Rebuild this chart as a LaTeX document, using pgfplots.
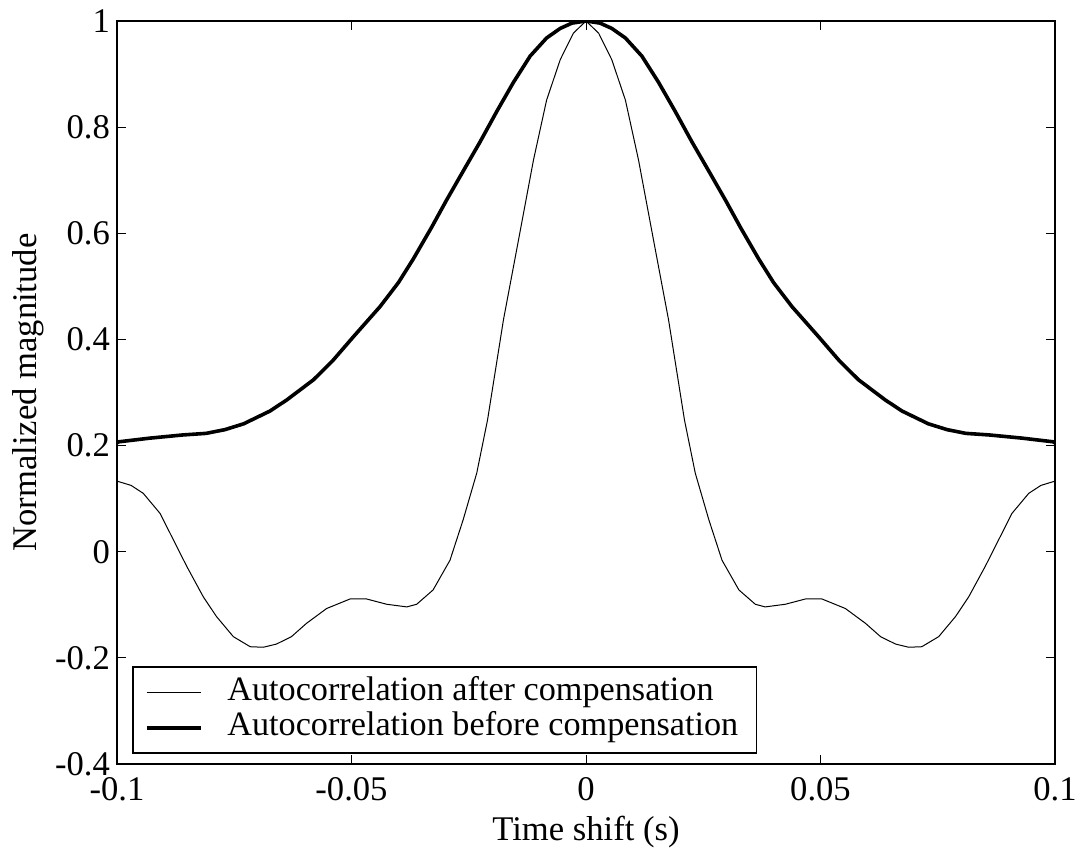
\documentclass[border=0pt]{standalone}
\usepackage{fontspec}
\setmainfont{Liberation Serif}
\usepackage{pgfplots}
\pgfplotsset{compat=1.18}
\begin{document}
\begin{tikzpicture}
\pgfplotstableread{
x y
-0.1000 0.205
-0.0997 0.207
-0.0930 0.214
-0.0860 0.220
-0.0810 0.223
-0.0770 0.230
-0.0730 0.241
-0.0674 0.265
-0.0638 0.286
-0.0581 0.324
-0.0540 0.360
-0.0496 0.405
-0.0439 0.462
-0.0400 0.507
-0.0368 0.552
-0.0330 0.610
-0.0297 0.663
-0.0260 0.720
-0.0226 0.772
-0.0190 0.830
-0.0155 0.884
-0.0119 0.934
-0.0084 0.968
-0.0055 0.986
-0.0030 0.996
0.0000 1.000
0.0030 0.996
0.0055 0.986
0.0084 0.968
0.0119 0.934
0.0155 0.884
0.0190 0.830
0.0226 0.772
0.0260 0.720
0.0297 0.663
0.0330 0.610
0.0368 0.552
0.0400 0.507
0.0439 0.462
0.0496 0.405
0.0540 0.360
0.0581 0.324
0.0638 0.286
0.0674 0.265
0.0730 0.241
0.0770 0.230
0.0810 0.223
0.0860 0.220
0.0930 0.214
0.0997 0.207
0.1000 0.205
}\before
\pgfplotstableread{
x y
-0.1000 0.133
-0.0970 0.125
-0.0944 0.110
-0.0908 0.072
-0.0883 0.028
-0.0851 -0.028
-0.0816 -0.085
-0.0788 -0.122
-0.0752 -0.160
-0.0716 -0.179
-0.0688 -0.180
-0.0660 -0.174
-0.0628 -0.160
-0.0596 -0.135
-0.0553 -0.107
-0.0503 -0.089
-0.0468 -0.089
-0.0425 -0.099
-0.0382 -0.104
-0.0361 -0.099
-0.0326 -0.072
-0.0290 -0.016
-0.0262 0.060
-0.0233 0.148
-0.0210 0.248
-0.0176 0.437
-0.0144 0.587
-0.0112 0.738
-0.0084 0.851
-0.0055 0.927
-0.0027 0.977
0.0000 1.000
0.0027 0.977
0.0055 0.927
0.0084 0.851
0.0112 0.738
0.0144 0.587
0.0176 0.437
0.0210 0.248
0.0233 0.148
0.0262 0.060
0.0290 -0.016
0.0326 -0.072
0.0361 -0.099
0.0382 -0.104
0.0425 -0.099
0.0468 -0.089
0.0503 -0.089
0.0553 -0.107
0.0596 -0.135
0.0628 -0.160
0.0660 -0.174
0.0688 -0.180
0.0716 -0.179
0.0752 -0.160
0.0788 -0.122
0.0816 -0.085
0.0851 -0.028
0.0883 0.028
0.0908 0.072
0.0944 0.110
0.0970 0.125
0.1000 0.133
}\after
\begin{axis}[
  scale only axis,
  width=469pt, height=371.5pt,
  xmin=-0.1, xmax=0.1, ymin=-0.4, ymax=1,
  xtick={-0.1,-0.05,0,0.05,0.1},
  xticklabels={-0.1,-0.05,0,0.05,0.1},
  ytick={-0.4,-0.2,0,0.2,0.4,0.6,0.8,1},
  yticklabels={-0.4,-0.2,0,0.2,0.4,0.6,0.8,1},
  tick align=inside,
  major tick length=4.5pt,
  axis line style={line width=0.75pt},
  every tick/.style={black, line width=0.5pt},
  tick label style={font=\fontsize{17.3}{21}\selectfont},
  xticklabel style={yshift=-3pt},
  label style={font=\fontsize{17.3}{21}\selectfont},
  xlabel={Time shift (s)},
  ylabel={Normalized magnitude},
  xlabel style={at={(axis description cs:0.5,-0.091)}, anchor=center},
  ylabel style={at={(axis description cs:-0.095,0.5)}, anchor=center, rotate=0},
  legend style={at={(axis description cs:0.016,0.0135)}, anchor=south west,
    draw=black, line width=0.75pt, inner xsep=6pt, inner ysep=4pt,
    font=\fontsize{17.1}{21}\selectfont,
    nodes={inner xsep=3pt, inner ysep=0pt, text height=12.5pt, text depth=5pt},
    /tikz/every even column/.append style={column sep=0pt},
    /tikz/every odd column/.append style={column sep=9.5pt}},
  legend cell align=left,
  legend image code/.code={\draw[#1] (0pt,0pt) -- (27pt,0pt);},
]
\addplot[black, line width=0.5pt] table[x=x,y=y] {\after};
\addlegendentry{Autocorrelation after compensation}
\addplot[black, line width=1.8pt] table[x=x,y=y] {\before};
\addlegendentry{Autocorrelation before compensation}
\end{axis}
\pgfresetboundingbox
\path (-58.5pt,-46.5pt) rectangle (481.5pt,382pt);
\end{tikzpicture}
\end{document}
